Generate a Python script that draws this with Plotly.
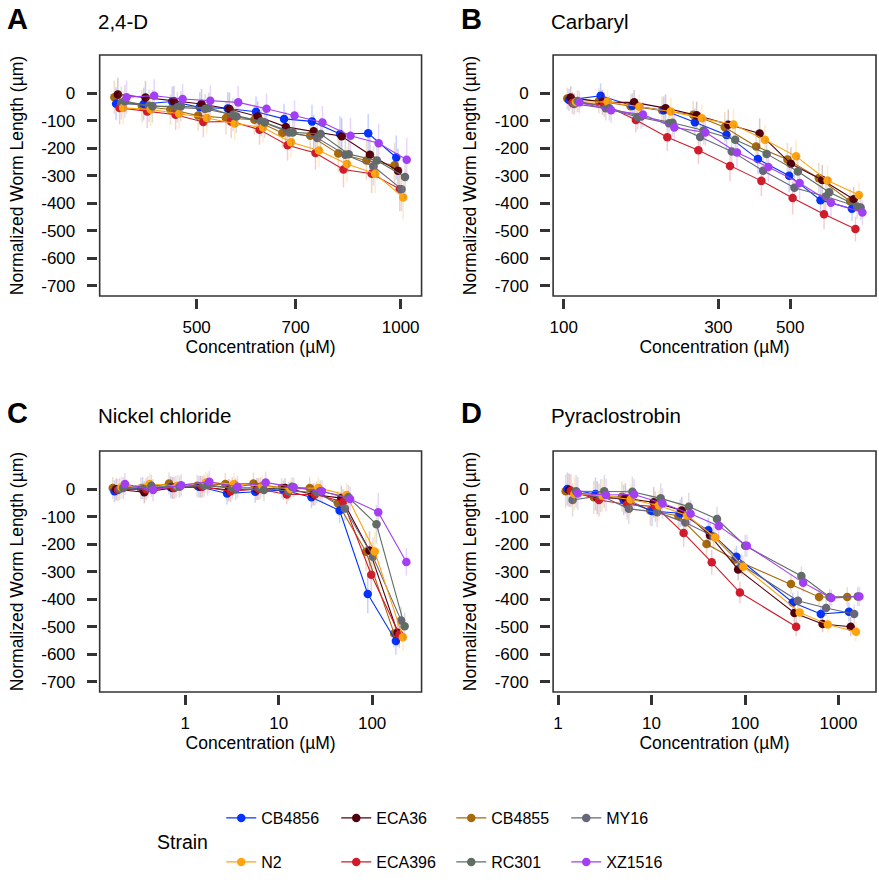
import plotly.graph_objects as go
import numpy as np

W, H = 879, 882

# ---------------- data ----------------
strains = ["CB4855", "CB4856", "ECA36", "ECA396", "MY16", "N2", "RC301", "XZ1516"]
colors = {
    "CB4856": "#0433FF", "N2": "#FFA30F", "ECA36": "#52000E", "ECA396": "#D11A2A",
    "CB4855": "#A8690A", "RC301": "#5F6E62", "MY16": "#676779", "XZ1516": "#A23FF2",
}
legend_rank = {"CB4856": 1, "ECA36": 2, "CB4855": 3, "MY16": 4,
               "N2": 5, "ECA396": 6, "RC301": 7, "XZ1516": 8}

# Panel A: 2,4-D
conc_24d = [386, 424, 467, 513, 564, 621, 683, 751, 826, 909, 1000]
vals_24d = {
    "CB4855": [-15, -48, -60, -82, -91, -97, -145, -155, -220, -245, -262],
    "CB4856": [-39, -40, -31, -52, -56, -68, -94, -103, -149, -146, -234],
    "ECA36":  [-5, -16, -30, -40, -58, -85, -123, -139, -157, -224, -282],
    "ECA396": [-54, -67, -79, -105, -103, -133, -190, -218, -278, -293, -349],
    "MY16":   [-36, -46, -52, -58, -79, -103, -143, -163, -224, -266, -349],
    "N2":     [-54, -60, -75, -91, -111, -125, -179, -209, -258, -293, -379],
    "RC301":  [-30, -48, -48, -54, -85, -107, -143, -149, -222, -245, -305],
    "XZ1516": [-15, -10, -22, -28, -34, -57, -82, -107, -155, -182, -242],
}
err_24d = [60, 60, 55, 55, 60, 55, 55, 60, 65, 70, 80]

# Panel B: Carbaryl
conc_carb = [107, 134, 168, 210, 262, 328, 410, 512, 640, 800]
vals_carb = {
    "CB4855": [-20, -29, -48, -63, -79, -124, -194, -241, -309, -393],
    "CB4856": [-25, -10, -46, -63, -106, -152, -240, -300, -389, -420],
    "ECA36":  [-16, -33, -34, -55, -81, -115, -147, -257, -316, -386],
    "ECA396": [-36, -42, -98, -161, -208, -265, -319, -381, -440, -494],
    "MY16":   [-40, -55, -87, -110, -160, -212, -282, -344, -376, -412],
    "N2":     [-33, -32, -50, -67, -92, -114, -170, -230, -318, -370],
    "RC301":  [-29, -55, -85, -108, -136, -170, -221, -285, -360, -416],
    "XZ1516": [-34, -63, -78, -125, -143, -216, -269, -327, -398, -434],
}
err_carb = [40, 45, 45, 50, 50, 55, 55, 60, 55, 45]

# Panel C: Nickel chloride
conc_ni = [0.195, 0.39, 0.78, 1.56, 3.125, 6.25, 12.5, 25, 50, 100, 200]
vals_ni = {
    "CB4855": [4, 2, 20, 12, 18, 20, 4, 4, -52, -228, -525],
    "CB4856": [-8, 4, 6, 8, -16, -10, -4, -30, -78, -381, -552],
    "ECA36":  [-1, -12, 4, 8, -4, 0, 4, -20, -33, -223, -522],
    "ECA396": [-4, 0, 4, 8, -8, 0, -20, -20, -46, -311, -528],
    "MY16":   [0, 6, 8, 12, 4, 4, -8, -12, -71, -246, -477],
    "N2":     [6, 18, 12, 24, 18, 12, 0, 4, -22, -227, -538],
    "RC301":  [4, 12, 8, 16, 0, -4, 8, -8, -30, -128, -498],
    "XZ1516": [18, -4, 14, 26, 8, 24, 6, -8, -36, -84, -265],
}
err_ni = [40, 40, 40, 40, 40, 40, 35, 40, 45, 70, 50]

# Panel D: Pyraclostrobin
conc_pyr = [1.4, 2.8, 5.6, 11.25, 22.5, 45, 90, 360, 720, 1440]
vals_pyr = {
    "CB4855": [-8, -30, -28, -78, -98, -200, -256, -345, -392, -392],
    "CB4856": [0, -18, -40, -80, -88, -150, -246, -412, -454, -446],
    "ECA36":  [-4, -32, -34, -48, -78, -168, -292, -450, -490, -500],
    "ECA396": [-6, -40, -56, -64, -160, -266, -376, -500, None, None],
    "MY16":   [-40, -24, -72, -84, -122, -172, -276, -406, -432, -454],
    "N2":     [-18, -24, -38, -60, -96, -176, -282, -448, -492, -518],
    "RC301":  [-8, -8, -10, -34, -64, -109, -206, -316, -392, -390],
    "XZ1516": [-16, -22, -20, -52, -90, -134, -206, -340, -396, -390],
}
err_pyr = [60, 60, 55, 55, 50, 45, 40, 35, 30, 35]

y_ticks = [0, -100, -200, -300, -400, -500, -600, -700]

# ---------------- layout helpers ----------------
panels = [
    dict(letter="A", title="2,4-D", conc=conc_24d, vals=vals_24d, err=err_24d,
         xt=[500, 700, 1000], xr=[2.5559, 3.0309], box=(97, 420, 55, 296)),
    dict(letter="B", title="Carbaryl", conc=conc_carb, vals=vals_carb, err=err_carb,
         xt=[100, 300, 500], xr=[1.967, 2.964], box=(552, 876, 55, 296)),
    dict(letter="C", title="Nickel chloride", conc=conc_ni, vals=vals_ni, err=err_ni,
         xt=[1, 10, 100], xr=[-0.915, 2.529], box=(97, 420, 451, 692)),
    dict(letter="D", title="Pyraclostrobin", conc=conc_pyr, vals=vals_pyr, err=err_pyr,
         xt=[1, 10, 100, 1000], xr=[-0.053, 3.401], box=(552, 876, 451, 692)),
]

FONT = "Liberation Sans, Arial, sans-serif"
AX = "#333333"
fig = go.Figure()
layout = dict(
    width=W, height=H, margin=dict(l=0, r=0, t=0, b=0),
    paper_bgcolor="white", plot_bgcolor="white",
    font=dict(family=FONT, size=17, color="black"),
    shapes=[], annotations=[],
)


def rgba(hexc, a):
    h = hexc.lstrip("#")
    return "rgba(%d,%d,%d,%.2f)" % (int(h[0:2], 16), int(h[2:4], 16), int(h[4:6], 16), a)


for k, p in enumerate(panels):
    idx = "" if k == 0 else str(k + 1)
    x0, x1, y0, y1 = p["box"]
    dec_per_px = (p["xr"][1] - p["xr"][0]) / (x1 - x0)
    step = 1.75 * dec_per_px  # dodge step in decades
    for i, s in enumerate(strains):
        off = (i - 3.5) * step
        xs = [c * 10 ** off for c in p["conc"]]
        ys = p["vals"][s]
        row1 = legend_rank[s] <= 4
        fig.add_trace(go.Scatter(
            x=xs, y=ys, mode="lines+markers", name=s,
            xaxis="x" + idx, yaxis="y" + idx,
            line=dict(color=colors[s], width=1.1),
            marker=dict(color=colors[s], size=8.5),
            error_y=dict(type="data", array=p["err"], visible=True,
                         color=rgba(colors[s], 0.22), thickness=1.5, width=0),
            showlegend=(k == 0), legendrank=legend_rank[s],
            legend="legend" if row1 else "legend2",
        ))
    layout["xaxis" + idx] = dict(
        domain=[x0 / W, x1 / W], type="log", range=p["xr"],
        tickmode="array", tickvals=p["xt"], ticktext=[str(v) for v in p["xt"]],
        ticks="outside", ticklen=10, tickwidth=3, tickcolor=AX,
        showline=False, showgrid=False, zeroline=False,
        anchor="free", position=1 - (y1 + 2) / H, ticklabelstandoff=4,
        tickfont=dict(size=17, color="black"),
        title=dict(text="Concentration (µM)", font=dict(size=17.5), standoff=4),
    )
    layout["yaxis" + idx] = dict(
        domain=[1 - y1 / H, 1 - y0 / H], range=[-737, 138],
        tickmode="array", tickvals=y_ticks, ticktext=[str(v) for v in y_ticks],
        ticks="outside", ticklen=10, tickwidth=3, tickcolor=AX,
        showline=False, showgrid=False, zeroline=False,
        anchor="free", position=(x0 - 3) / W, ticklabelstandoff=8,
        tickfont=dict(size=17, color="black"),
        title=dict(text="Normalized Worm Length (µm)", font=dict(size=17.5), standoff=12),
    )
    layout["shapes"].append(dict(
        type="rect", xref="paper", yref="paper",
        x0=x0 / W, x1=x1 / W, y0=1 - y1 / H, y1=1 - y0 / H,
        line=dict(color=AX, width=1.6), layer="above"))
    lx = 15 if x0 < 400 else 470
    ly = 19 if y0 < 300 else 413
    layout["annotations"].append(dict(
        text="<b>%s</b>" % p["letter"], x=lx / W, y=1 - ly / H, xref="paper", yref="paper",
        showarrow=False, xanchor="center", yanchor="middle",
        font=dict(size=29, color="black")))
    layout["annotations"].append(dict(
        text=p["title"], x=(x0 - 4) / W, y=1 - (ly + 2) / H, xref="paper", yref="paper",
        showarrow=False, xanchor="left", yanchor="middle",
        font=dict(size=20.5, color="black")))

layout["annotations"].append(dict(
    text="Strain", x=153 / W, y=1 - 842 / H, xref="paper", yref="paper",
    showarrow=False, xanchor="left", yanchor="middle", font=dict(size=19.5, color="black")))

leg_common = dict(orientation="h", xanchor="left", yanchor="middle",
                  entrywidth=70, entrywidthmode="pixels",
                  font=dict(size=16, color="black"), bgcolor="rgba(0,0,0,0)",
                  traceorder="normal")
layout["legend"] = dict(x=219 / W, y=1 - 818 / H, **leg_common)
layout["legend2"] = dict(x=219 / W, y=1 - 862 / H, **leg_common)

fig.update_layout(**layout)
fig.write_html("out.html", config={"displayModeBar": False},
               post_script="document.body.style.margin='0';document.body.style.overflow='hidden';")
